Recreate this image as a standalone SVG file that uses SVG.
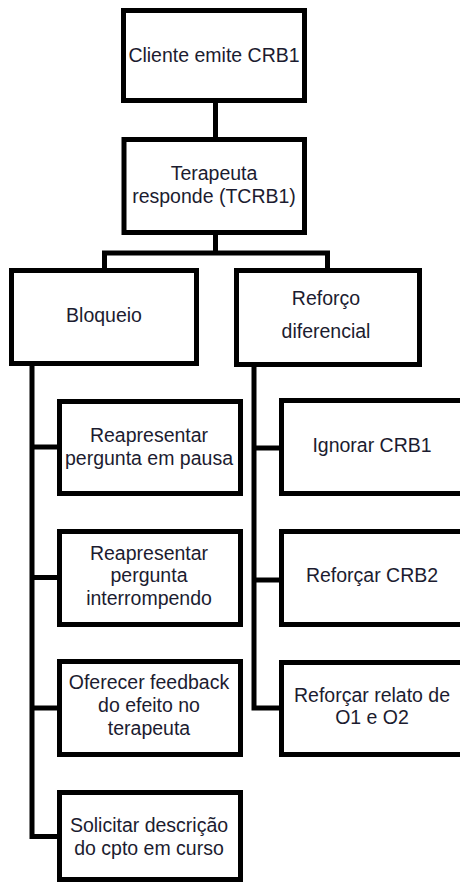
<svg xmlns="http://www.w3.org/2000/svg" width="460" height="885" viewBox="0 0 460 885">
<style>
.box{fill:#fff;stroke:#000;stroke-width:5}
.ln{fill:none;stroke:#000;stroke-width:5;stroke-linejoin:miter}
text{font-family:"Liberation Sans",Arial,sans-serif;font-size:19.5px;fill:#1c1c30;text-anchor:middle}
</style>
<rect width="460" height="885" fill="#fff"/>
<g id="connectors">
<path class="ln" d="M215.5 103 V137"/>
<path class="ln" d="M215.5 235 V253"/>
<path class="ln" d="M102 253 H330"/>
<path class="ln" d="M104.5 253 V268"/>
<path class="ln" d="M327.5 253 V268"/>
<path class="ln" d="M32 366 V836.5 H57"/>
<path class="ln" d="M32 447 H57"/>
<path class="ln" d="M32 577.5 H57"/>
<path class="ln" d="M32 708 H57"/>
<path class="ln" d="M254 366 V708 H279"/>
<path class="ln" d="M254 448 H279"/>
<path class="ln" d="M254 580 H279"/>
</g>
<g id="n_cliente">
<rect class="box" x="123.5" y="10.5" width="181" height="90"/>
<text x="214" y="62">Cliente emite CRB1</text>
</g>
<g id="n_terapeuta">
<rect class="box" x="124" y="139.5" width="180.5" height="93"/>
<text x="214" y="180">Terapeuta</text>
<text x="214" y="203">responde (TCRB1)</text>
</g>
<g id="n_bloqueio">
<rect class="box" x="11.5" y="270.5" width="185" height="93"/>
<text x="104" y="322">Bloqueio</text>
</g>
<g id="n_reforco">
<rect class="box" x="236.5" y="270.5" width="183" height="94"/>
<text x="326" y="305">Reforço</text>
<text x="326" y="338">diferencial</text>
</g>
<g id="n_pausa">
<rect class="box" x="59.5" y="401.5" width="181" height="92"/>
<text x="149" y="442">Reapresentar</text>
<text x="149" y="465">pergunta em pausa</text>
</g>
<g id="n_interrompendo">
<rect class="box" x="59.5" y="531.5" width="181" height="93"/>
<text x="149" y="560">Reapresentar</text>
<text x="149" y="582">pergunta</text>
<text x="149" y="605">interrompendo</text>
</g>
<g id="n_oferecer">
<rect class="box" x="59.5" y="661.5" width="181" height="93"/>
<text x="149" y="689">Oferecer feedback</text>
<text x="149" y="712">do efeito no</text>
<text x="149" y="735">terapeuta</text>
</g>
<g id="n_solicitar">
<rect class="box" x="59.5" y="792.5" width="181" height="87"/>
<text x="149" y="832">Solicitar descrição</text>
<text x="149" y="855">do cpto em curso</text>
</g>
<g id="n_ignorar">
<rect class="box" x="281.5" y="400.5" width="185" height="93"/>
<text x="372" y="452">Ignorar CRB1</text>
</g>
<g id="n_crb2">
<rect class="box" x="281.5" y="531.5" width="185" height="93"/>
<text x="372" y="582">Reforçar CRB2</text>
</g>
<g id="n_relato">
<rect class="box" x="281.5" y="662.5" width="185" height="92"/>
<text x="372" y="702">Reforçar relato de</text>
<text x="372" y="724">O1 e O2</text>
</g>
</svg>
